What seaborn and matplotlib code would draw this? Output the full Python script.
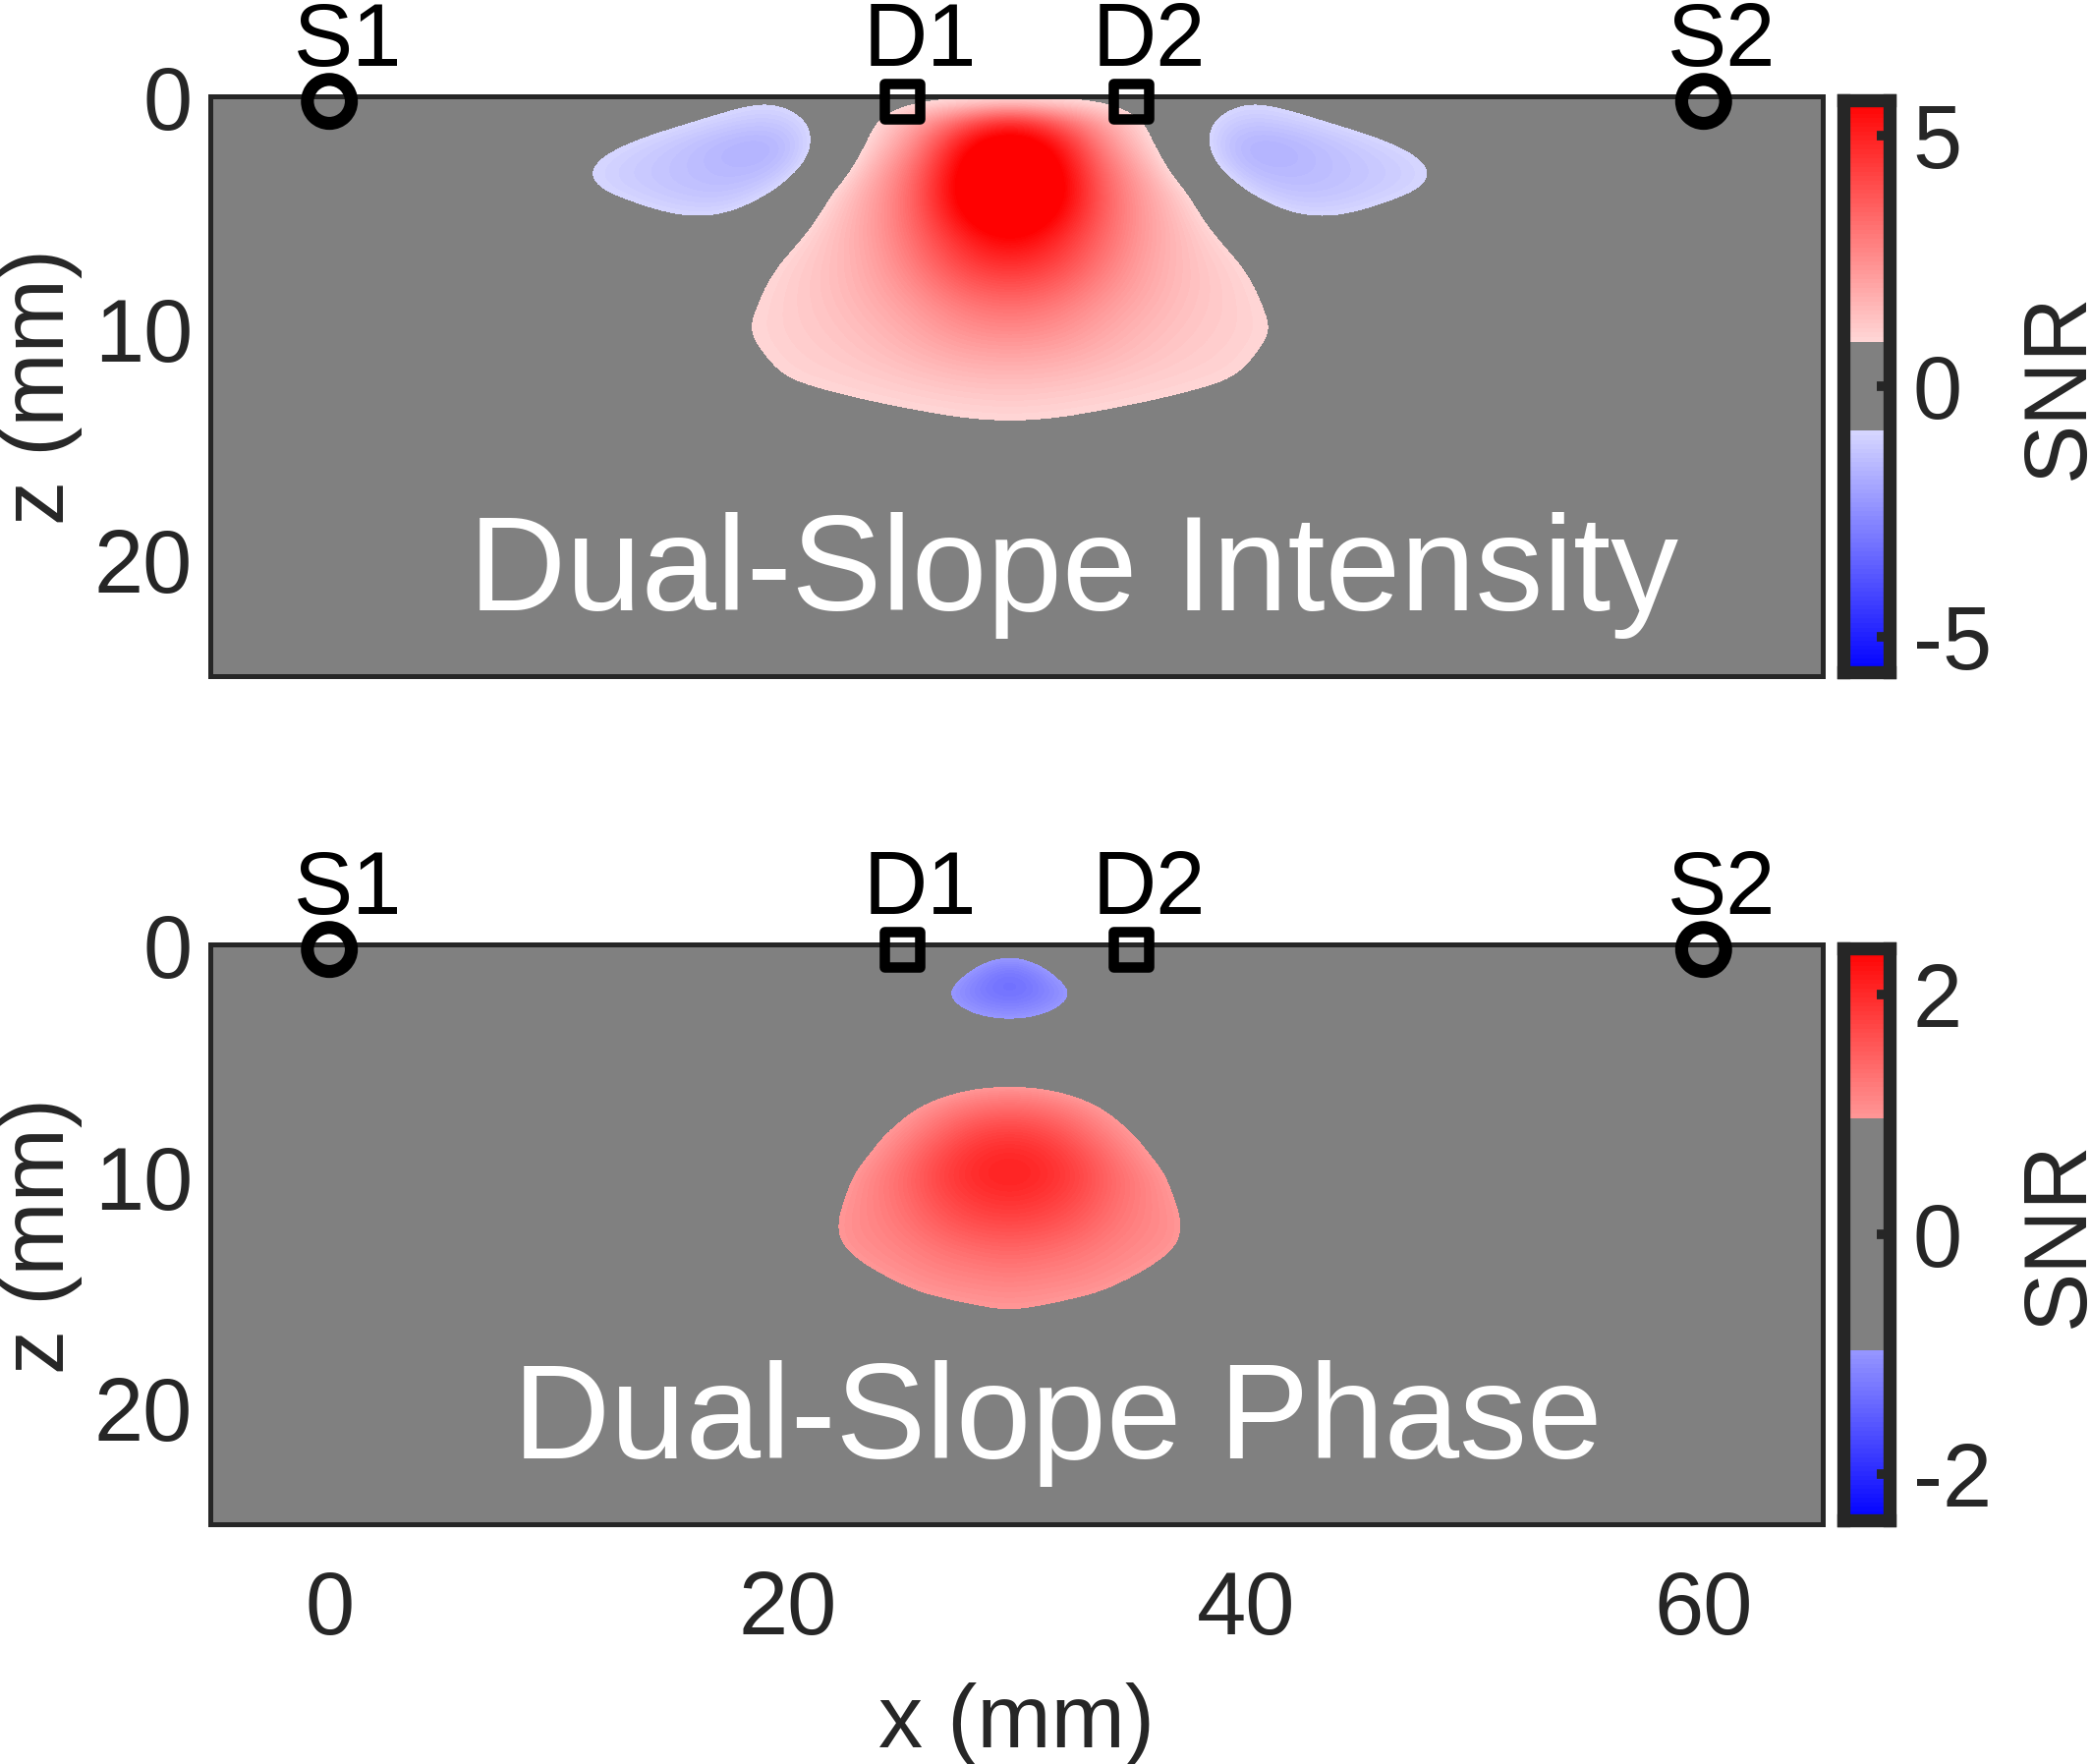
# -*- coding: utf-8 -*-
import numpy as np
import pandas as pd
import matplotlib
matplotlib.use('Agg')
import matplotlib.pyplot as plt
import seaborn as sns
from matplotlib.colors import ListedColormap

W, H = 2128, 1795

# optodes
source_x = [0, 60]
source_z = [0.17, 0.17]
source_labels = ['S1', 'S2']
detector_x = [25, 35]
detector_z = [0.17, 0.17]
detector_labels = ['D1', 'D2']

x_centre = 29.7

# SNR, half map (left/right are mirror images)
# columns = distance from x_centre, rows = depth
int_offset = [0, 2, 4, 6, 8, 10, 12, 14, 16, 18, 20]
int_depth = list(range(17))
int_snr = [
    [0.30, 0.30, 0.45, 0.10, -0.30, -0.78, -0.65, -0.35, -0.20, -0.10, 0.00],
    [5.00, 3.60, 2.00, 0.80, -0.60, -1.30, -1.15, -0.80, -0.50, -0.25, -0.10],
    [6.80, 5.50, 2.70, 1.10, -0.55, -1.80, -1.75, -1.40, -1.05, -0.70, -0.35],
    [7.50, 6.20, 3.30, 1.70, -0.20, -1.60, -1.70, -1.45, -1.25, -1.00, -0.55],
    [7.60, 6.40, 3.60, 2.00, 0.75, -0.95, -1.45, -1.40, -1.18, -0.92, -0.50],
    [7.20, 5.90, 3.60, 2.10, 1.10, -0.10, -0.95, -1.00, -0.75, -0.45, -0.25],
    [6.00, 5.00, 3.40, 2.10, 1.30, 0.55, -0.25, -0.50, -0.40, -0.25, -0.10],
    [5.00, 4.40, 3.10, 2.00, 1.35, 0.92, 0.30, 0.00, -0.10, -0.05, 0.00],
    [4.10, 3.70, 2.70, 1.90, 1.38, 1.03, 0.60, 0.25, 0.08, 0.00, 0.00],
    [3.30, 3.00, 2.30, 1.75, 1.32, 1.08, 0.72, 0.40, 0.20, 0.08, 0.00],
    [2.70, 2.50, 2.00, 1.55, 1.25, 1.07, 0.83, 0.50, 0.28, 0.12, 0.05],
    [2.10, 2.00, 1.70, 1.38, 1.15, 1.02, 0.72, 0.45, 0.25, 0.10, 0.05],
    [1.60, 1.55, 1.35, 1.15, 1.03, 0.93, 0.55, 0.33, 0.18, 0.08, 0.00],
    [1.20, 1.13, 1.03, 0.93, 0.82, 0.68, 0.40, 0.22, 0.10, 0.05, 0.00],
    [0.88, 0.85, 0.76, 0.65, 0.55, 0.42, 0.27, 0.15, 0.07, 0.00, 0.00],
    [0.62, 0.58, 0.50, 0.42, 0.33, 0.25, 0.15, 0.08, 0.00, 0.00, 0.00],
    [0.38, 0.35, 0.30, 0.25, 0.18, 0.12, 0.06, 0.00, 0.00, 0.00, 0.00],
]

phase_offset = [0, 1.5, 3, 4.5, 6, 7.5, 9, 10.5, 12]
phase_depth = list(range(19))
phase_snr = [
    [-0.70, -0.55, -0.30, -0.12, 0.00, 0.00, 0.00, 0.00, 0.00],
    [-1.35, -1.05, -0.60, -0.25, -0.05, 0.00, 0.00, 0.00, 0.00],
    [-1.45, -1.25, -1.00, -0.50, -0.15, 0.00, 0.00, 0.00, 0.00],
    [-1.05, -1.00, -0.75, -0.35, -0.10, 0.00, 0.00, 0.00, 0.00],
    [-0.70, -0.60, -0.40, -0.15, -0.05, 0.00, 0.00, 0.00, 0.00],
    [0.30, 0.25, 0.15, 0.08, 0.00, 0.00, 0.00, 0.00, 0.00],
    [0.97, 0.93, 0.75, 0.55, 0.25, 0.10, 0.00, 0.00, 0.00],
    [1.40, 1.32, 1.15, 0.90, 0.60, 0.30, 0.10, 0.00, 0.00],
    [1.80, 1.70, 1.42, 1.10, 0.85, 0.50, 0.25, 0.10, 0.00],
    [2.05, 1.95, 1.68, 1.32, 0.98, 0.72, 0.40, 0.20, 0.05],
    [2.12, 2.02, 1.78, 1.42, 1.15, 0.85, 0.50, 0.30, 0.15],
    [1.95, 1.87, 1.68, 1.38, 1.15, 0.95, 0.60, 0.35, 0.15],
    [1.72, 1.67, 1.52, 1.30, 1.13, 1.02, 0.65, 0.35, 0.15],
    [1.47, 1.42, 1.32, 1.18, 1.08, 1.00, 0.60, 0.30, 0.15],
    [1.27, 1.22, 1.17, 1.08, 1.00, 0.80, 0.45, 0.22, 0.10],
    [1.08, 1.06, 1.02, 0.95, 0.78, 0.55, 0.30, 0.15, 0.05],
    [0.95, 0.90, 0.82, 0.72, 0.55, 0.35, 0.18, 0.05, 0.00],
    [0.75, 0.70, 0.60, 0.50, 0.40, 0.25, 0.10, 0.00, 0.00],
    [0.50, 0.45, 0.40, 0.30, 0.25, 0.15, 0.05, 0.00, 0.00],
]

# colour limits / grey band / ticks of the two colorbars
int_clim = 5.7
int_grey = 0.88
int_ticks = [5, 0, -5]
phase_clim = 2.39
phase_grey = 0.97
phase_ticks = [2, 0, -2]

sns.set_theme(style='white')
plt.rcParams['font.family'] = ['Liberation Sans', 'DejaVu Sans']
DARK = '#262626'
GREY = '#808080'
FS = 65


def box(l, t, r, b):
    return [l / W, 1 - b / H, (r - l) / W, (b - t) / H]


def make_cmap(clim, grey, n=128):
    lev = (np.arange(n) + 0.5) / n * 2 * clim - clim
    cols = []
    for v in lev:
        f = abs(v) / clim
        if abs(v) < grey:
            cols.append(GREY)
        elif v > 0:
            cols.append((1, 1 - f, 1 - f))
        else:
            cols.append((1 - f, 1 - f, 1))
    return ListedColormap(cols), lev


def panel(top, offset, depth, snr, clim, grey, ticks, title, title_x, show_x):
    bottom = top + 590
    ax = fig.add_axes(box(214, top, 1855, bottom))
    cax = fig.add_axes(box(1876, top + 4, 1923, bottom - 4))
    cmap, lev = make_cmap(clim, grey)

    half = np.array(snr)
    full = np.hstack([half[:, :0:-1], half])
    dx = offset[1] - offset[0]
    dz = depth[1] - depth[0]
    ext = (x_centre - offset[-1] - dx / 2, x_centre + offset[-1] + dx / 2,
           depth[-1] + dz / 2, depth[0] - dz / 2)
    ax.set_facecolor(GREY)
    ax.imshow(full, extent=ext, cmap=cmap, vmin=-clim, vmax=clim, aspect='auto',
              interpolation='bicubic', interpolation_stage='data', zorder=1)
    ax.set_xlim(-5.2, 65.2)
    ax.set_ylim(25, -0.05)

    # optodes
    sns.scatterplot(x=source_x, y=source_z, marker='o', s=1037, color='black',
                    edgecolor='black', linewidth=9.5, clip_on=False, zorder=5,
                    legend=False, ax=ax)
    ax.collections[-1].set_facecolor('none')
    sns.scatterplot(x=detector_x, y=detector_z, marker='s', s=655, color='black',
                    edgecolor='black', linewidth=7.6, clip_on=False, zorder=5,
                    legend=False, ax=ax)
    ax.collections[-1].set_facecolor('none')
    for x, lab in zip(source_x + detector_x, source_labels + detector_labels):
        ax.text(x + 0.8, -1.35, lab, fontsize=FS, color='black', ha='center',
                va='baseline', clip_on=False)

    ax.text(title_x, 22.15, title, fontsize=99, color='white', ha='center', va='baseline')

    ax.set_xticks([0, 20, 40, 60])
    ax.set_yticks([0, 10, 20])
    ax.tick_params(axis='y', length=0, pad=13, labelsize=FS, labelcolor=DARK, left=True)
    ax.tick_params(axis='x', length=0, pad=33, labelsize=FS, labelcolor=DARK, bottom=True)
    ax.set_xlabel('')
    ax.set_ylabel('z (mm)', fontsize=FS, color=DARK)
    ax.yaxis.label.set_va('center')
    ax.yaxis.set_label_coords(41 / W, 1 - (top + 296) / H, transform=fig.transFigure)
    if show_x:
        ax.set_xlabel('x (mm)', fontsize=FS, color=DARK)
        ax.xaxis.set_label_coords(1034 / W, 1 - 1778 / H, transform=fig.transFigure)
        ax.xaxis.label.set_va('baseline')
    else:
        ax.set_xticklabels([])
    for s in ax.spines.values():
        s.set_visible(True)
        s.set_color(DARK)
        s.set_linewidth(3.6)
        s.set_zorder(4)

    # colorbar strip
    strip = pd.DataFrame(lev[::-1].reshape(-1, 1))
    sns.heatmap(strip, ax=cax, cmap=cmap, vmin=-clim, vmax=clim, cbar=False,
                xticklabels=False, yticklabels=False)
    cax.set_axisbelow(False)
    cax.yaxis.tick_right()
    cax.set_yticks([(clim - t) / (2 * clim) * len(lev) for t in ticks])
    cax.set_yticklabels([str(t) for t in ticks])
    cax.tick_params(axis='y', direction='in', length=9.4, width=7, color=DARK, pad=17,
                    labelsize=FS, labelcolor=DARK, right=True, left=False, rotation=0)
    for s in cax.spines.values():
        s.set_visible(True)
        s.set_color(DARK)
        s.set_linewidth(9.6)
    cax.set_ylabel('SNR', fontsize=FS, color=DARK)
    cax.yaxis.set_label_position('right')
    cax.yaxis.label.set_rotation(90)
    cax.yaxis.label.set_va('center')
    cax.yaxis.label.set_ha('center')
    cax.yaxis.set_label_coords(2096 / W, 1 - (top + 295) / H, transform=fig.transFigure)
    return ax


fig = plt.figure(figsize=(W / 100, H / 100), dpi=100, facecolor='white')
panel(98, int_offset, int_depth, int_snr, int_clim, int_grey, int_ticks,
      'Dual-Slope Intensity', 32.5, False)
panel(961, phase_offset, phase_depth, phase_snr, phase_clim, phase_grey, phase_ticks,
      'Dual-Slope Phase', 31.8, True)

fig.savefig('out.png', dpi=100)
